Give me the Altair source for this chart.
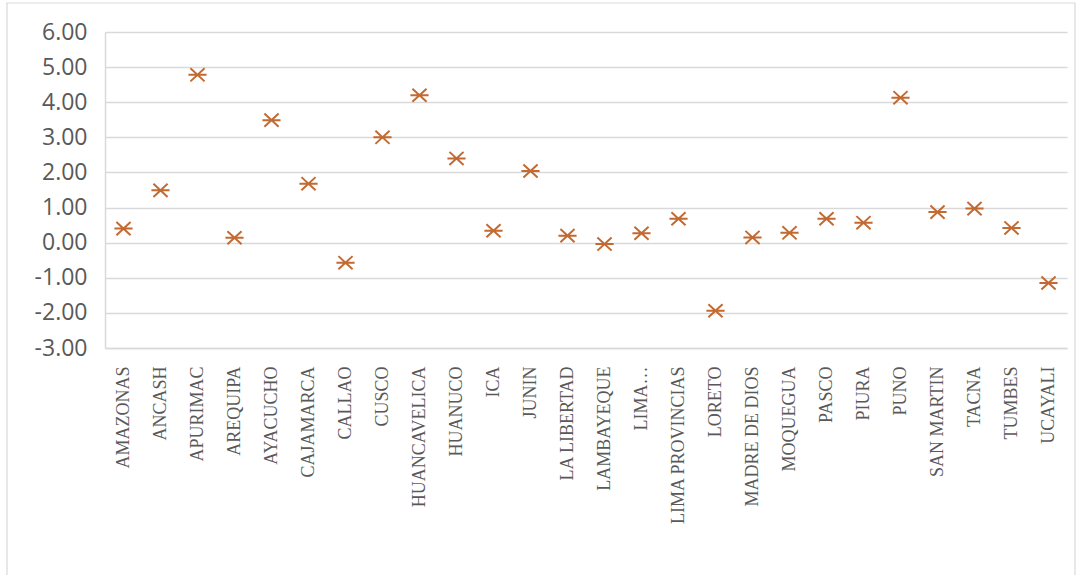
import altair as alt
import pandas as pd

regions = ["AMAZONAS", "ANCASH", "APURIMAC", "AREQUIPA", "AYACUCHO", "CAJAMARCA",
           "CALLAO", "CUSCO", "HUANCAVELICA", "HUANUCO", "ICA", "JUNIN",
           "LA LIBERTAD", "LAMBAYEQUE", "LIMA…", "LIMA PROVINCIAS", "LORETO",
           "MADRE DE DIOS", "MOQUEGUA", "PASCO", "PIURA", "PUNO", "SAN MARTIN",
           "TACNA", "TUMBES", "UCAYALI"]
values = [0.40, 1.49, 4.78, 0.14, 3.49, 1.68,
          -0.57, 3.00, 4.20, 2.40, 0.34, 2.04,
          0.20, -0.04, 0.27, 0.68, -1.94,
          0.15, 0.28, 0.68, 0.57, 4.13, 0.87,
          0.97, 0.42, -1.15]
y_ticks = [-3, -2, -1, 0, 1, 2, 3, 4, 5, 6]

df = pd.DataFrame({"region": regions, "value": values})

W, H = 962, 316
PL, PT = 105, 32

star = "M-1,0L1,0M-0.78,-0.72L0.78,0.72M-0.78,0.72L0.78,-0.72"

frame = alt.Chart(pd.DataFrame({"k": [0]})).mark_rect(
    fill=None, stroke="#D9D9D9", strokeWidth=1.2
).encode(
    x=alt.value(7 - PL), x2=alt.value(1075 - PL),
    y=alt.value(3 - PT), y2=alt.value(620 - PT)
)

points = alt.Chart(df).mark_point(
    shape=star, size=330, filled=False, stroke="#C26A32", strokeWidth=2, opacity=1
).encode(
    x=alt.X("region:N", sort=regions, title=None,
            scale=alt.Scale(paddingInner=0, paddingOuter=0.5),
            axis=alt.Axis(labelAngle=270, labelAlign="right", labelBaseline="middle",
                          labelFont="Liberation Serif", labelFontSize=18,
                          labelColor="#595959", labelPadding=18, ticks=False,
                          domain=True, domainColor="#D9D9D9", domainWidth=1.5,
                          grid=False, labelOverlap=False)),
    y=alt.Y("value:Q", title=None,
            scale=alt.Scale(domain=[-3, 6], nice=False, zero=False),
            axis=alt.Axis(values=y_ticks,
                          labelExpr="(datum.value < 0 ? '-' : '') + format(abs(datum.value), '.2f')",
                          labelFont="Open Sans",
                          labelFontSize=23, labelColor="#595959", labelPadding=18,
                          ticks=False, domain=True, domainColor="#D9D9D9",
                          domainWidth=1.5, grid=True, gridColor="#D9D9D9",
                          gridWidth=1.5))
)

chart = alt.layer(frame, points).properties(
    width=W, height=H,
    autosize=alt.AutoSizeParams(type="none"),
    padding={"left": PL, "top": PT, "right": 1078 - PL - W, "bottom": 575 - PT - H},
    background="white"
).configure_view(stroke=None)

chart.save("out.html", embed_options={"renderer": "svg", "actions": False})
